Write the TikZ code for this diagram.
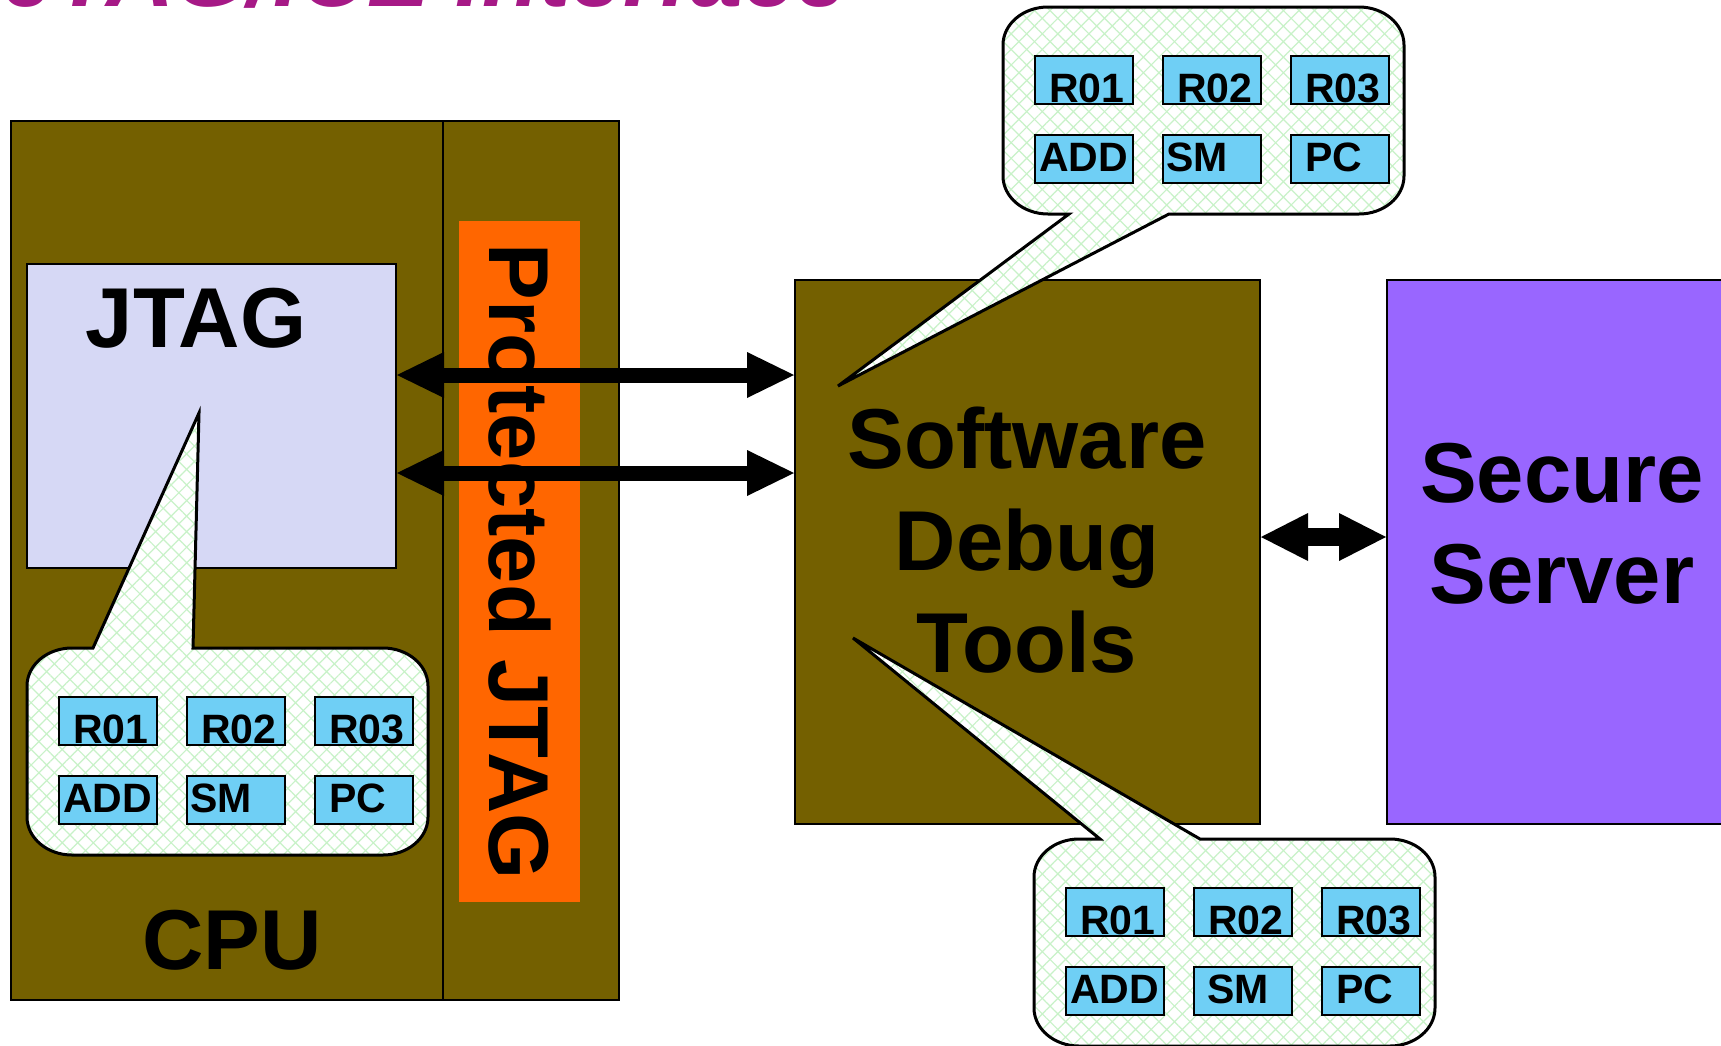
\documentclass[tikz,border=0pt]{standalone}
\usepackage{fontspec}
\setmainfont{Liberation Sans}
\usetikzlibrary{arrows.meta,patterns.meta}

\definecolor{cpuOlive}{RGB}{116,96,0}
\definecolor{jtagLav}{RGB}{214,216,245}
\definecolor{pjOrange}{RGB}{255,102,0}
\definecolor{srvPurple}{RGB}{153,102,255}
\definecolor{regBlue}{RGB}{111,207,245}
\definecolor{patGreen}{RGB}{200,242,200}
\definecolor{ttlMagenta}{RGB}{166,25,134}

\tikzset{
  blockbox/.style={draw=black, line width=2pt, inner sep=0pt, anchor=north west},
  bigtxt/.style={font=\fontsize{85}{102}\selectfont\bfseries, inner sep=0pt},
  regbox/.style={draw=black, line width=2pt, fill=regBlue, inner sep=0pt,
    minimum width=98pt, minimum height=48pt, anchor=north west},
  regtxt/.style={font=\fontsize{41}{48}\selectfont\bfseries, inner sep=0pt, anchor=base west},
  callout/.style={draw=black, line width=3pt,
    preaction={fill=white},
    preaction={pattern={Lines[angle=45,distance=11pt,line width=1.2pt]}, pattern color=patGreen},
    preaction={pattern={Lines[angle=-45,distance=11pt,line width=1.2pt]}, pattern color=patGreen}},
  bigarrow/.style={line width=15pt,
    arrows={Triangle[length=47pt,width=46pt,line width=0pt]-Triangle[length=47pt,width=46pt,line width=0pt]}},
  srvarrow/.style={line width=18pt,
    arrows={Triangle[length=47pt,width=48pt,line width=0pt]-Triangle[length=47pt,width=48pt,line width=0pt]}},
}

\newcommand{\regset}[4]{%
  \node[regbox] (#1-r01) at ({#2+31},{#3+48}) {};
  \node[regbox] (#1-r02) at ({#2+159},{#3+48}) {};
  \node[regbox] (#1-r03) at ({#2+287},{#3+48}) {};
  \node[regbox] (#1-add) at ({#2+31},{#3+127}) {};
  \node[regbox] (#1-sm) at ({#2+159},{#3+127}) {};
  \node[regbox] (#1-pc) at ({#2+287},{#3+127}) {};
  \node[regtxt] (#1-r01t) at ([xshift=15pt,yshift=3pt]#1-r01.south west) {R01};
  \node[regtxt] (#1-r02t) at ([xshift=15pt,yshift=3pt]#1-r02.south west) {R02};
  \node[regtxt] (#1-r03t) at ([xshift=15pt,yshift=3pt]#1-r03.south west) {R03};
  \node[regtxt] (#1-addt) at ([xshift=5pt,yshift=13pt]#1-add.south west) {ADD};
  \node[regtxt] (#1-smt) at ([xshift=#4,yshift=13pt]#1-sm.south west) {SM};
  \node[regtxt] (#1-pct) at ([xshift=15pt,yshift=13pt]#1-pc.south west) {PC};
}

\begin{document}
\begin{tikzpicture}[x=1pt,y=-1pt]
\useasboundingbox (0,0) rectangle (1721,1045);
\clip (0,0) rectangle (1721,1045);

% title (cut by the top edge)
\node[anchor=base east, inner sep=0pt, text=ttlMagenta,
  font=\fontsize{94}{110}\selectfont\bfseries\itshape] (title) at (848,6) {JTAG/ICE Interface};

% CPU block
\node[blockbox, fill=cpuOlive, minimum width=608pt, minimum height=879pt] (cpu) at (10,120) {};
\coordinate (divx) at (443,500);
\draw[line width=2pt] (cpu.north -| divx) -- (cpu.south -| divx);
\node[blockbox, fill=jtagLav, minimum width=369pt, minimum height=304pt] (jtag) at (26,263) {};
\node[bigtxt, anchor=base] (jtagt) at (196,347) {JTAG};
\node[anchor=north west, fill=pjOrange, inner sep=0pt, minimum width=121pt, minimum height=681pt] (pjbox) at (459,221) {};
\node[bigtxt, rotate=-90] (pjt) at (520,562) {Protected JTAG};
\node[bigtxt, anchor=base] (cput) at (232,969) {CPU};

% Software debug tools
\node[blockbox, fill=cpuOlive, minimum width=465pt, minimum height=544pt] (sdt) at (794,279) {};
\node[bigtxt, anchor=base] (sdt1) at (1027,468) {Software};
\node[bigtxt, anchor=base] (sdt2) at (1027,570) {Debug};
\node[bigtxt, anchor=base] (sdt3) at (1027,672) {Tools};

% Secure server
\node[blockbox, fill=srvPurple, minimum width=350pt, minimum height=544pt] (srv) at (1386,279) {};
\node[bigtxt, anchor=base] (srv1) at (1562,502) {Secure};
\node[bigtxt, anchor=base] (srv2) at (1562,603) {Server};

% arrows
\coordinate (a1) at (600,375);
\coordinate (a2) at (600,473);
\coordinate (a3) at (1320,537);
\draw[bigarrow] (jtag.east |- a1) -- (sdt.west |- a1);
\draw[bigarrow] (jtag.east |- a2) -- (sdt.west |- a2);
\draw[srvarrow] (sdt.east |- a3) -- (srv.west |- a3);

% callout 1 (CPU)
\coordinate (tip1) at (199,413);
\draw[callout] (93,648) -- (tip1) -- (193,648) -- (383,648)
  arc[start angle=270,end angle=360,x radius=45,y radius=38] -- (428,817)
  arc[start angle=0,end angle=90,x radius=45,y radius=38] -- (72,855)
  arc[start angle=90,end angle=180,x radius=45,y radius=38] -- (27,686)
  arc[start angle=180,end angle=270,x radius=45,y radius=38] -- cycle;
\regset{ca}{27}{648}{4pt}

% callout 2 (top)
\coordinate (tip2) at (838,386);
\draw[callout] (1048,7) -- (1359,7)
  arc[start angle=270,end angle=360,x radius=45,y radius=38] -- (1404,176)
  arc[start angle=0,end angle=90,x radius=45,y radius=38] -- (1169,214) -- (tip2) -- (1069,214) -- (1048,214)
  arc[start angle=90,end angle=180,x radius=45,y radius=38] -- (1003,45)
  arc[start angle=180,end angle=270,x radius=45,y radius=38] -- cycle;
\regset{cb}{1003}{7}{4pt}

% callout 3 (bottom)
\coordinate (tip3) at (853,638);
\draw[callout] (1100,839) -- (tip3) -- (1200,839) -- (1390,839)
  arc[start angle=270,end angle=360,x radius=45,y radius=38] -- (1435,1008)
  arc[start angle=0,end angle=90,x radius=45,y radius=38] -- (1079,1046)
  arc[start angle=90,end angle=180,x radius=45,y radius=38] -- (1034,877)
  arc[start angle=180,end angle=270,x radius=45,y radius=38] -- cycle;
\regset{cc}{1034}{839}{14pt}

\end{tikzpicture}
\end{document}
